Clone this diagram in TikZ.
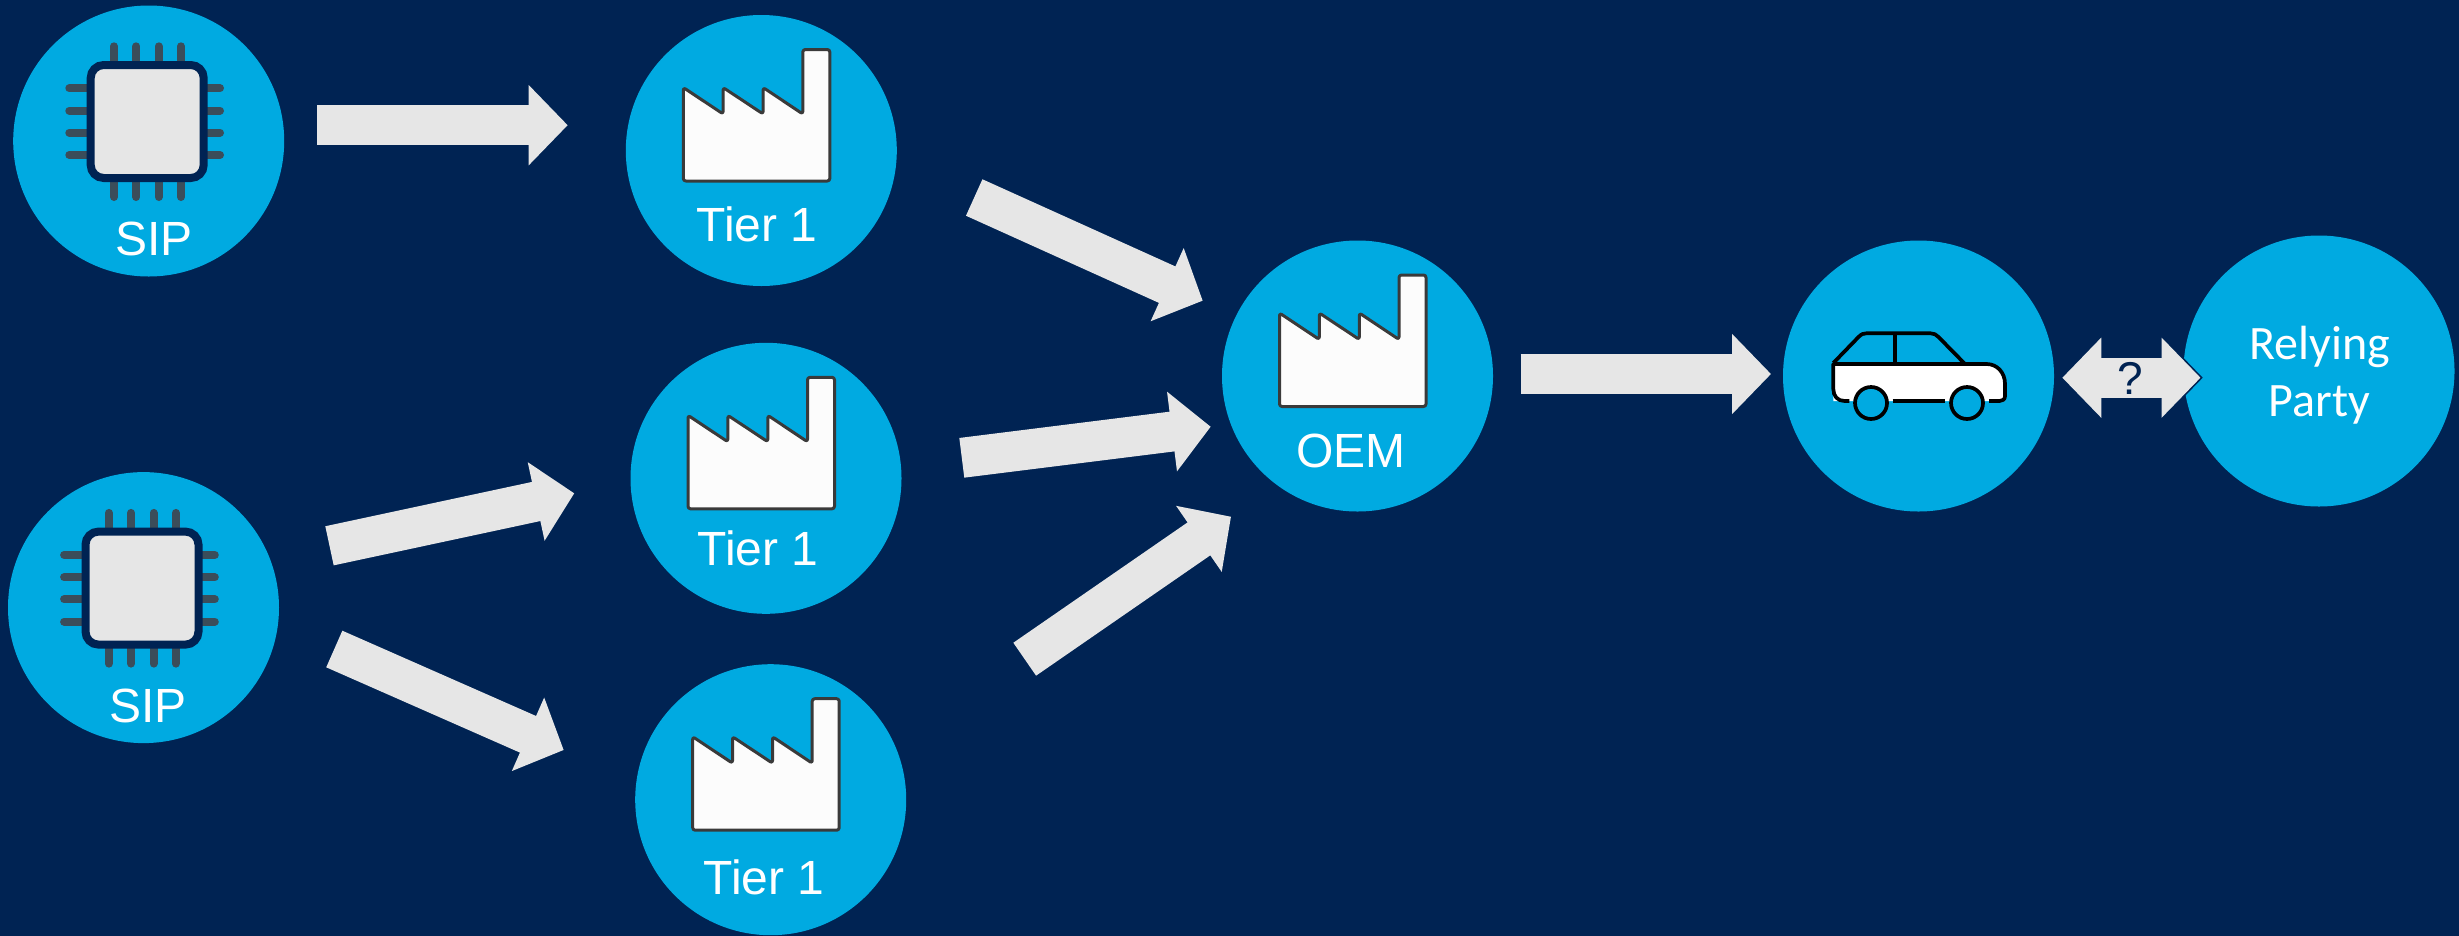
\documentclass[tikz,border=0pt]{standalone}
\usepackage{fontspec}
\setmainfont{Liberation Sans}
\newfontfamily\carlitofont{Carlito}
\usetikzlibrary{arrows.meta}
\definecolor{navybg}{RGB}{0,35,83}
\definecolor{discblue}{RGB}{0,170,225}
\definecolor{arrowgrey}{RGB}{230,230,230}
\definecolor{pingrey}{RGB}{59,77,90}
\definecolor{iconedge}{RGB}{58,58,58}
\tikzset{
  disc/.style={circle,fill=discblue,minimum size=271pt,inner sep=0pt,outer sep=0pt},
  lab/.style={text=white,font=\fontsize{48}{48}\selectfont,inner sep=0pt},
  bigarrow/.style={draw=arrowgrey,line width=40pt,
    -{Triangle[length=39pt,width=78pt]}},
  bothwaysedge/.style={draw=navybg,line width=40pt,
    -{Triangle[length=41pt,width=82pt]}},
  bothways/.style={draw=arrowgrey,line width=40pt,
    {Triangle[length=39pt,width=78pt]}-{Triangle[length=39pt,width=78pt]}},
  chippic/.pic={
    \foreach \p in {-34.7,-12.4,10,32.3}{
      \draw[pingrey,line width=8pt,line cap=round] (\p,-94.7) -- (\p,56);
    }
    \foreach \p in {-52.7,-30.3,-8.3,14}{
      \draw[pingrey,line width=8pt,line cap=round] (-79.4,\p) -- (71.3,\p);
    }
    \draw[draw=navybg,fill=arrowgrey,line width=8pt,rounded corners=13pt] (-58,-76) rectangle (55,37);
  },
  factorypic/.pic={
    \draw[draw=iconedge,fill=white!99!black,line width=3pt,rounded corners=2.5pt,line join=round]
      (-78,30.5) -- (-78,-63) -- (-38.2,-36.5) -- (-38.2,-63) -- (1.8,-36.5) -- (1.8,-63)
      -- (41.5,-36.5) -- (41.5,-101) -- (68.5,-101) -- (68.5,30.5) -- cycle;
  },
  carpic/.pic={
    \fill[white] (-85.2,25) -- (-85.2,-12) -- (68,-12) .. controls (79,-12) and (86.5,-3) .. (86.5,8)
      -- (86.5,25) -- cycle;
    \draw[black,line width=3.7pt,line join=round]
      (-69.2,25) -- (-74,25) .. controls (-81,25) and (-85.2,20) .. (-85.2,13) -- (-85.2,-12)
      -- (68,-12) .. controls (79,-12) and (86.5,-3) .. (86.5,8) -- (86.5,20)
      .. controls (86.5,23.5) and (84,25) .. (81,25) -- (70.5,25);
    \draw[black,line width=3.7pt,line join=round]
      (-85.2,-13) -- (-60,-39) .. controls (-57,-42) and (-55,-42.7) .. (-52,-42.7) -- (12,-42.7)
      .. controls (15,-42.7) and (18,-41.5) .. (20,-39) -- (46.5,-12);
    \draw[black,line width=3.7pt] (-23.5,-42.7) -- (-23.5,-12);
    \draw[black,line width=3.7pt] (-25.8,25) -- (26.5,25);
    \draw[black,fill=discblue,line width=3.7pt] (-47.5,27) circle (16);
    \draw[black,fill=discblue,line width=3.7pt] (48.5,27) circle (16);
  },
}
\begin{document}
\begin{tikzpicture}[x=1pt,y=-1pt]
\useasboundingbox (0,0) rectangle (2459,935);
\fill[navybg] (-3,-3) rectangle (2462,938);

% discs
\node[disc] (sipa) at (148.7,141) {};
\node[disc] (sipb) at (143.5,607.6) {};
\node[disc] (tiera) at (761.3,150.5) {};
\node[disc] (tierb) at (766,478.3) {};
\node[disc] (tierc) at (770.7,799.7) {};
\node[disc] (oem) at (1357.5,376) {};
\node[disc] (car) at (1918.5,376) {};
\node[disc] (party) at (2319,371) {};

% icons
\pic at (sipa.center) {chippic};
\pic at (sipb.center) {chippic};
\pic at (tiera.center) {factorypic};
\pic at (tierb.center) {factorypic};
\pic at (tierc.center) {factorypic};
\pic at (oem.center) {factorypic};
\pic at (car.center) {carpic};

% labels
\node[lab] (lsipa) at (153.7,238.7) {SIP};
\node[lab] (lsipb) at (148,706) {SIP};
\node[lab] (ltiera) at (757,224) {Tier 1};
\node[lab] (ltierb) at (758,548) {Tier 1};
\node[lab] (ltierc) at (764,877) {Tier 1};
\node[lab] (loem) at (1351,451) {OEM};
\node[lab,font=\carlitofont\fontsize{48}{57}\selectfont,align=center] (lparty) at (2319.5,375) {Relying\\Party};

% connector ends
\coordinate (a1s) at (317,125.2);   \coordinate (a1e) at (567.7,125.2);
\coordinate (a2s) at (974.2,197.5); \coordinate (a2e) at (1202.7,300.7);
\coordinate (a3s) at (961.8,457.8); \coordinate (a3e) at (1210.7,426.7);
\coordinate (a4s) at (1024.7,659.2);\coordinate (a4e) at (1231,516.7);
\coordinate (a5s) at (329.5,545.8); \coordinate (a5e) at (574.3,493.3);
\coordinate (a6s) at (334.3,649);   \coordinate (a6e) at (563.7,750);
\coordinate (a7s) at (1520.7,374);  \coordinate (a7e) at (1771,374);
\coordinate (a8s) at (2062.3,377.7);\coordinate (a8e) at (2200.5,377.7);
\coordinate (a8o) at (2202.8,377.7);

\draw[bigarrow] (a1s) -- (a1e);
\draw[bigarrow] (a2s) -- (a2e);
\draw[bigarrow] (a3s) -- (a3e);
\draw[bigarrow] (a4s) -- (a4e);
\draw[bigarrow] (a5s) -- (a5e);
\draw[bigarrow] (a6s) -- (a6e);
\draw[bigarrow] (a7s) -- (a7e);
\draw[bothwaysedge] (a8s) -- (a8o);
\draw[bothways] (a8s) -- (a8e);
\node[text=navybg,font=\fontsize{46}{46}\selectfont,inner sep=0pt] (ask) at (2130.7,378) {?};
\end{tikzpicture}
\end{document}
